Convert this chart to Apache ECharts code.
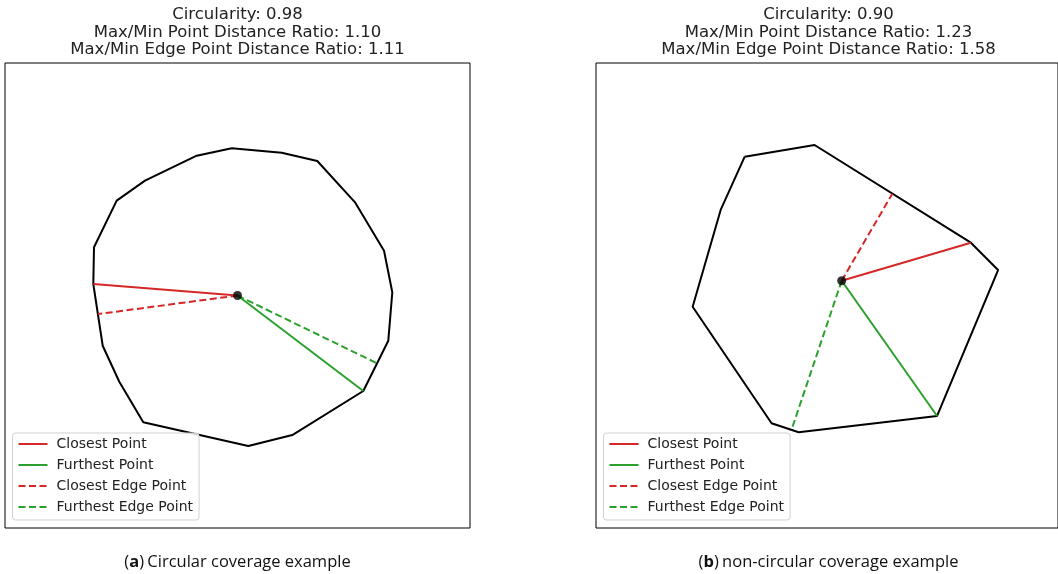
<!DOCTYPE html>
<html>
<head>
<meta charset="utf-8">
<script src="https://cdn.jsdelivr.net/npm/echarts@6/dist/echarts.min.js"></script>
<style>
  html, body { margin: 0; padding: 0; background: #fff; }
  #chart { width: 1058px; height: 574px; }
</style>
</head>
<body>
<div id="chart"></div>
<script>
// Coverage polygons (x, y) in plot units, 0..100 on both axes
const polygonA = [
  [48.75, 81.66], [59.51, 80.71], [67.16, 78.92], [75.33, 69.96], [81.51, 59.63],
  [83.29, 50.69], [82.43, 40.28], [77.05, 29.46], [61.78, 19.99], [52.32, 17.63],
  [29.74, 22.73], [24.58, 31.46], [21.01, 39.20], [18.99, 52.47], [19.14, 60.37],
  [24.02, 70.39], [30.11, 74.69], [41.23, 80.06]
];
const centerA = [50.0, 50.0];
const closestPointA = [18.99, 52.47];
const furthestPointA = [77.05, 29.46];
const closestEdgeA = [19.97, 46.0];
const furthestEdgeA = [80.01, 35.42];

const polygonB = [
  [32.19, 79.85], [47.31, 82.37], [81.14, 61.35], [87.03, 55.48], [73.83, 24.09],
  [43.87, 20.58], [38.00, 22.52], [20.92, 47.59], [27.03, 68.54]
];
const centerB = [53.18, 53.18];
const closestPointB = [81.14, 61.35];
const furthestPointB = [73.83, 24.09];
const closestEdgeB = [64.15, 71.90];
const furthestEdgeB = [42.43, 21.44];

const titlesA = ['Circularity: 0.98', 'Max/Min Point Distance Ratio: 1.10', 'Max/Min Edge Point Distance Ratio: 1.11'];
const titlesB = ['Circularity: 0.90', 'Max/Min Point Distance Ratio: 1.23', 'Max/Min Edge Point Distance Ratio: 1.58'];
const captionA = ['a', 'Circular coverage example'];
const captionB = ['b', 'non-circular coverage example'];
const legendNames = ['Closest Point', 'Furthest Point', 'Closest Edge Point', 'Furthest Edge Point'];

const RED = '#d62728';
const GREEN = '#2ca02c';
const DASH = [7, 3.5];

const panels = [
  { left: 5, poly: polygonA, c: centerA, cp: closestPointA, fp: furthestPointA, ce: closestEdgeA, fe: furthestEdgeA, titles: titlesA, caption: captionA },
  { left: 596, poly: polygonB, c: centerB, cp: closestPointB, fp: furthestPointB, ce: closestEdgeB, fe: furthestEdgeB, titles: titlesB, caption: captionB }
];
const SIZE = 465, TOP = 63;

const grid = [], xAxis = [], yAxis = [], series = [], legend = [], graphic = [];

panels.forEach((p, i) => {
  grid.push({ left: p.left, top: TOP, width: SIZE, height: SIZE, show: true, borderColor: '#000', borderWidth: 1, backgroundColor: '#fff' });
  xAxis.push({ gridIndex: i, type: 'value', min: 0, max: 100, show: false });
  yAxis.push({ gridIndex: i, type: 'value', min: 0, max: 100, show: false });

  const base = { type: 'line', xAxisIndex: i, yAxisIndex: i, symbol: 'none', silent: true, animation: false };
  series.push(Object.assign({}, base, {
    name: 'polygon' + i, data: p.poly.concat([p.poly[0]]),
    lineStyle: { color: '#000', width: 2 }, z: 2
  }));
  const seg = (name, end, color, dashed) => Object.assign({}, base, {
    name: name, data: [p.c, end], color: color,
    lineStyle: { color: color, width: 2, type: dashed ? DASH : 'solid' }, z: 3
  });
  series.push(seg(legendNames[0], p.cp, RED, false));
  series.push(seg(legendNames[1], p.fp, GREEN, false));
  series.push(seg(legendNames[2], p.ce, RED, true));
  series.push(seg(legendNames[3], p.fe, GREEN, true));
  series.push({
    type: 'scatter', xAxisIndex: i, yAxisIndex: i, data: [p.c], symbolSize: 9,
    itemStyle: { color: '#000' }, silent: true, animation: false, z: 4
  });

  legend.push({
    data: legendNames, orient: 'vertical', left: p.left + 7.5, top: 433,
    itemWidth: 29, itemHeight: 14, itemGap: 7,
    padding: [4, 6, 6, 5],
    itemStyle: { opacity: 0 },
    backgroundColor: 'rgba(255,255,255,0.8)', borderColor: '#d0d0d0', borderWidth: 1, borderRadius: 3,
    selectedMode: false,
    textStyle: { fontFamily: 'DejaVu Sans', fontSize: 14, color: '#222', padding: [0, 0, 0, 4] }
  });

  graphic.push({
    type: 'text', x: p.left + SIZE / 2, y: 6, silent: true,
    style: {
      text: p.titles.join('\n'), align: 'center', textAlign: 'center', verticalAlign: 'top', textVerticalAlign: 'top',
      fontFamily: 'DejaVu Sans', fontSize: 16.5, lineHeight: 17.5, fill: '#222'
    }
  });
  graphic.push({
    type: 'text', x: p.left + SIZE / 2, y: 562, silent: true,
    style: {
      text: '{n|(}{b|' + p.caption[0] + '}{n|)} {n|' + p.caption[1] + '}',
      align: 'center', textAlign: 'center', verticalAlign: 'middle', textVerticalAlign: 'middle',
      fill: '#111',
      rich: {
        n: { fontFamily: 'Open Sans', fontSize: 16.5, fill: '#111' },
        b: { fontFamily: 'Open Sans', fontSize: 16.5, fontWeight: 'bold', fill: '#111' }
      }
    }
  });
});

const chart = echarts.init(document.getElementById('chart'), null, { renderer: 'canvas' });
chart.setOption({ animation: false, backgroundColor: '#fff', grid, xAxis, yAxis, series, legend, graphic });
</script>
</body>
</html>
